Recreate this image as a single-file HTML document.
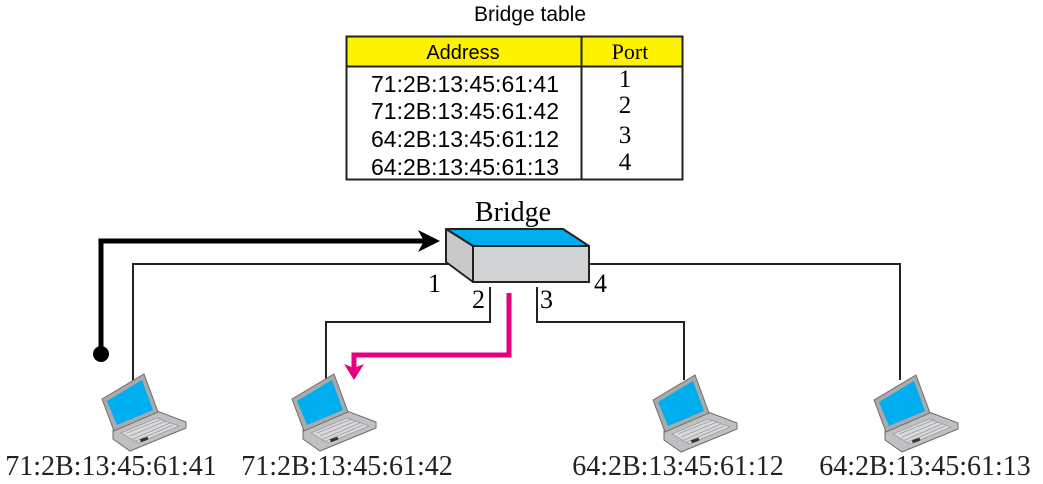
<!DOCTYPE html>
<html><head><meta charset="utf-8"><style>
html,body{margin:0;padding:0;background:#fff;}
svg{display:block}
.s{font-family:"Liberation Sans",sans-serif;}
.r{font-family:"Liberation Serif",serif;}
</style></head><body>
<svg width="1043" height="484" viewBox="0 0 1043 484" xmlns="http://www.w3.org/2000/svg">
<defs>
<g id="lap">
  <polygon points="11,57 55,38 84,49 84,55 28,78 11,66" fill="#bfc0c2" stroke="#6d6e70" stroke-width="1"/>
  <polygon points="19,60 55,45 77,53 36,70" fill="#d8d9db" stroke="#8a8b8d" stroke-width="0.6"/>
  <g stroke="#9a9b9d" stroke-width="0.8">
    <line x1="25" y1="60" x2="60" y2="46"/><line x1="28" y1="63" x2="64" y2="48"/><line x1="31" y1="66" x2="68" y2="50"/><line x1="34" y1="68" x2="71" y2="52"/>
  </g>
  <rect x="38" y="65" width="8" height="3" fill="#333" transform="rotate(-20 42 66)"/>
  <polygon points="0,26 42,1 56,39 12,58" fill="#a9aaac" stroke="#6d6e70" stroke-width="1"/>
  <polygon points="5,28 40,7 51,37 15,52" fill="#00aeef"/>
</g>
</defs>

<!-- table -->
<text x="530" y="21" text-anchor="middle" class="s" font-size="21">Bridge table</text>
<rect x="346.5" y="36.5" width="336" height="30" fill="#fff200" stroke="#222" stroke-width="2"/>
<rect x="346.5" y="66.5" width="336" height="113" fill="#fff" stroke="#222" stroke-width="2"/>
<line x1="581.5" y1="36" x2="581.5" y2="180" stroke="#222" stroke-width="2"/>
<text x="463" y="59" text-anchor="middle" class="s" font-size="20">Address</text>
<text x="630" y="59" text-anchor="middle" class="r" font-size="22">Port</text>
<g class="s" font-size="23" text-anchor="middle">
<text x="465" y="92">71:2B:13:45:61:41</text>
<text x="465" y="119">71:2B:13:45:61:42</text>
<text x="465" y="147">64:2B:13:45:61:12</text>
<text x="465" y="175">64:2B:13:45:61:13</text>
</g>
<g class="r" font-size="25" text-anchor="middle">
<text x="625" y="87">1</text>
<text x="625" y="113">2</text>
<text x="625" y="143">3</text>
<text x="625" y="170">4</text>
</g>

<!-- connectors -->
<g fill="none" stroke="#222" stroke-width="2">
<polyline points="133,385 133,264 455,264"/>
<polyline points="589,264 900,264 900,380"/>
<polyline points="490,287 490,322 326,322 326,385"/>
<polyline points="537,287 537,322 684,322 684,380"/>
</g>

<!-- bridge -->
<text x="513" y="221" text-anchor="middle" class="r" font-size="28">Bridge</text>
<polygon points="446,229 563,229 589,246 473,246" fill="#00aeef" stroke="#222" stroke-width="2" stroke-linejoin="round"/>
<polygon points="446,229 473,246 473,282 446,262" fill="#c8c9cb" stroke="#222" stroke-width="2" stroke-linejoin="round"/>
<rect x="473" y="246" width="116" height="36" fill="#d1d2d4" stroke="#222" stroke-width="2"/>

<g class="r" font-size="26">
<text x="428" y="292">1</text>
<text x="472" y="308">2</text>
<text x="540" y="308">3</text>
<text x="594" y="292">4</text>
</g>

<!-- black arrow -->
<polyline points="101,354 101,241 425,241" fill="none" stroke="#000" stroke-width="5"/>
<polygon points="418,230 440,241 418,252 424,241" fill="#000"/>
<circle cx="101" cy="354" r="8" fill="#000"/>

<!-- magenta arrow -->
<polyline points="509,293 509,355 354,355 354,368" fill="none" stroke="#e6007e" stroke-width="5"/>
<polygon points="344,364 354,368 364,364 354,380" fill="#e6007e"/>

<!-- laptops -->
<use href="#lap" x="102" y="373"/>
<use href="#lap" x="292" y="373"/>
<use href="#lap" x="653" y="374"/>
<use href="#lap" x="874" y="374"/>

<g class="r" font-size="28" text-anchor="middle" fill="#222">
<text x="111" y="475">71:2B:13:45:61:41</text>
<text x="347" y="475">71:2B:13:45:61:42</text>
<text x="678" y="475">64:2B:13:45:61:12</text>
<text x="925" y="475">64:2B:13:45:61:13</text>
</g>
</svg>
</body></html>
